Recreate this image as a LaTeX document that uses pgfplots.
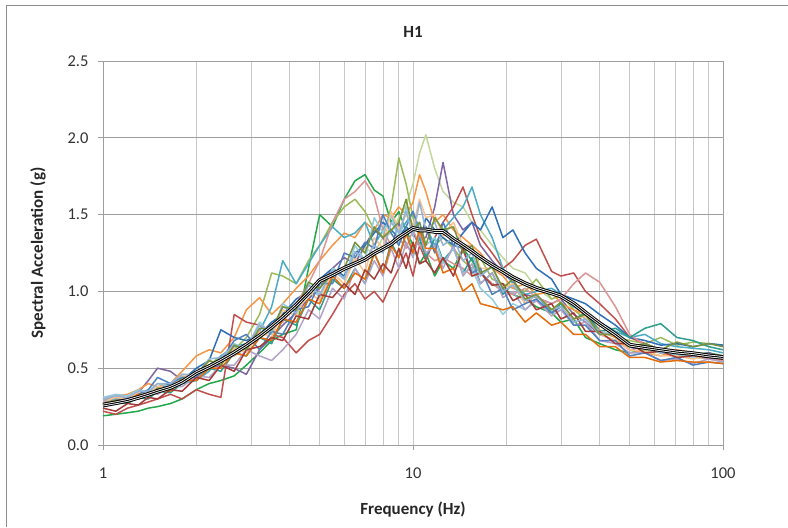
\documentclass[border=0pt]{standalone}
\usepackage{fontspec}
\setmainfont{Carlito}
\usepackage{pgfplots}
\usepackage{pgfplotstable}
\pgfplotsset{compat=1.18}
\definecolor{c1}{HTML}{22A84B}
\definecolor{c2}{HTML}{C3D69B}
\definecolor{c3}{HTML}{9BBB59}
\definecolor{c4}{HTML}{8064A2}
\definecolor{c5}{HTML}{F79646}
\definecolor{c6}{HTML}{C0504D}
\definecolor{c7}{HTML}{4BACC6}
\definecolor{c8}{HTML}{2F6FB5}
\definecolor{c9}{HTML}{D99694}
\definecolor{c10}{HTML}{2E9E8E}
\definecolor{c11}{HTML}{93CDDD}
\definecolor{c12}{HTML}{FAC090}
\definecolor{c13}{HTML}{B3A2C7}
\definecolor{c14}{HTML}{4F81BD}
\definecolor{c15}{HTML}{E46C0A}
\definecolor{c16}{HTML}{A33B38}
\definecolor{c17}{HTML}{95B3D7}
\definecolor{c18}{HTML}{77933C}
\pgfplotstableread{
name 1 1.1 1.2 1.3 1.4 1.5 1.65 1.8 2 2.2 2.4 2.65 2.9 3.2 3.5 3.8 4.2 4.6 5 5.5 6 6.5 7 7.5 8 8.5 9 9.5 10 10.5 11 11.75 12.5 13.5 14.5 15.5 16.5 18 19.5 21 23 25 28 30 33 36 40 45 50 56 63 71 80 90 100
t 0.26 0.275 0.29 0.31 0.33 0.35 0.375 0.41 0.47 0.51 0.55 0.60 0.65 0.71 0.77 0.83 0.91 0.99 1.07 1.11 1.15 1.18 1.21 1.25 1.28 1.31 1.35 1.38 1.41 1.40 1.40 1.39 1.39 1.34 1.30 1.26 1.22 1.17 1.13 1.09 1.05 1.02 0.99 0.97 0.92 0.86 0.79 0.72 0.65 0.635 0.62 0.605 0.595 0.58 0.57
s1 0.19 0.20 0.21 0.22 0.24 0.25 0.27 0.30 0.36 0.40 0.42 0.45 0.52 0.60 0.68 0.72 0.75 1.15 1.50 1.42 1.60 1.72 1.76 1.66 1.62 1.45 1.52 1.40 1.30 1.18 1.25 1.10 1.20 1.15 1.28 1.20 1.12 1.05 1.02 0.98 0.95 0.90 0.86 0.80 0.82 0.70 0.66 0.62 0.60 0.62 0.60 0.58 0.59 0.60 0.58
s2 0.30 0.31 0.30 0.32 0.35 0.37 0.38 0.42 0.46 0.49 0.56 0.58 0.63 0.70 0.74 0.86 0.88 0.95 1.05 1.12 1.10 1.20 1.28 1.25 1.35 1.38 1.48 1.56 1.70 1.90 2.02 1.80 1.65 1.58 1.55 1.45 1.40 1.30 1.22 1.15 1.12 1.02 0.95 0.97 0.90 0.85 0.78 0.72 0.64 0.62 0.60 0.58 0.57 0.56 0.55
s3 0.28 0.29 0.31 0.33 0.32 0.34 0.38 0.40 0.44 0.52 0.58 0.62 0.70 0.85 1.12 1.10 1.05 1.20 1.30 1.45 1.55 1.60 1.52 1.40 1.35 1.55 1.87 1.70 1.48 1.35 1.42 1.30 1.35 1.28 1.20 1.15 1.22 1.08 1.05 1.02 1.00 1.08 0.95 0.98 0.88 0.82 0.74 0.70 0.68 0.66 0.70 0.65 0.67 0.66 0.65
s4 0.27 0.28 0.30 0.34 0.42 0.50 0.48 0.42 0.45 0.50 0.52 0.50 0.46 0.62 0.70 0.78 0.86 0.95 1.02 1.15 1.22 1.18 1.30 1.40 1.35 1.28 1.45 1.30 1.25 1.35 1.35 1.55 1.84 1.50 1.40 1.45 1.30 1.20 1.12 1.06 0.98 0.96 0.92 0.95 0.85 0.80 0.72 0.68 0.62 0.64 0.60 0.61 0.58 0.60 0.57
s5 0.30 0.32 0.33 0.36 0.40 0.38 0.40 0.48 0.58 0.62 0.60 0.70 0.88 0.96 0.85 0.92 1.02 1.10 1.20 1.30 1.38 1.35 1.45 1.40 1.50 1.48 1.55 1.50 1.58 1.76 1.65 1.45 1.50 1.40 1.35 1.30 1.25 1.15 1.10 1.02 1.05 0.98 1.00 0.92 0.88 0.85 0.75 0.70 0.62 0.60 0.58 0.62 0.60 0.58 0.57
s6 0.22 0.20 0.24 0.26 0.28 0.30 0.33 0.30 0.36 0.33 0.31 0.85 0.80 0.78 0.72 0.70 0.60 0.68 0.72 0.85 0.98 1.05 0.95 1.00 0.93 1.05 1.15 1.25 1.10 1.30 1.20 1.35 1.45 1.55 1.68 1.50 1.35 1.25 1.15 1.20 1.30 1.34 1.13 1.10 1.12 1.00 0.92 0.82 0.70 0.66 0.62 0.60 0.60 0.59 0.58
s7 0.29 0.30 0.29 0.31 0.34 0.36 0.40 0.44 0.42 0.48 0.58 0.64 0.66 0.74 0.90 1.20 1.05 1.18 1.30 1.42 1.35 1.38 1.45 1.30 1.40 1.50 1.38 1.45 1.52 1.35 1.42 1.30 1.40 1.48 1.55 1.68 1.50 1.35 1.15 1.05 0.98 1.00 1.02 0.98 0.90 0.86 0.80 0.74 0.70 0.72 0.66 0.64 0.63 0.62 0.60
s8 0.27 0.29 0.31 0.30 0.33 0.36 0.40 0.42 0.50 0.55 0.75 0.70 0.68 0.72 0.80 0.85 0.95 1.00 1.08 1.15 1.10 1.25 1.30 1.38 1.45 1.40 1.35 1.42 1.38 1.30 1.48 1.40 1.35 1.30 1.38 1.45 1.40 1.55 1.35 1.40 1.25 1.15 1.08 0.98 0.95 0.92 0.85 0.78 0.70 0.68 0.65 0.66 0.64 0.66 0.65
s9 0.30 0.31 0.30 0.33 0.35 0.34 0.38 0.42 0.45 0.50 0.56 0.58 0.64 0.70 0.78 0.80 0.92 1.05 1.20 1.45 1.60 1.65 1.72 1.62 1.40 1.30 1.35 1.28 1.40 1.30 1.25 1.20 1.22 1.18 1.15 1.10 1.12 1.05 1.00 0.98 1.02 0.96 0.92 0.95 1.05 1.12 1.06 0.90 0.72 0.65 0.62 0.60 0.58 0.56 0.55
s10 0.26 0.28 0.27 0.31 0.30 0.35 0.34 0.40 0.42 0.50 0.48 0.60 0.58 0.70 0.66 0.82 0.78 0.95 0.88 1.08 1.02 1.15 1.05 1.25 1.12 1.32 1.22 1.38 1.25 1.35 1.22 1.35 1.20 1.28 1.12 1.22 1.05 1.12 0.98 1.05 0.92 0.98 0.86 0.92 0.82 0.86 0.74 0.76 0.70 0.76 0.79 0.70 0.68 0.64 0.62
s11 0.31 0.33 0.32 0.36 0.34 0.40 0.38 0.46 0.45 0.55 0.52 0.66 0.62 0.80 0.72 0.92 0.86 1.05 0.96 1.15 1.08 1.30 1.20 1.48 1.38 1.50 1.32 1.55 1.42 1.45 1.30 1.35 1.18 1.28 1.12 1.15 1.02 0.95 0.85 0.92 0.88 0.95 0.86 0.88 0.80 0.82 0.74 0.72 0.64 0.64 0.60 0.59 0.57 0.57 0.56
s12 0.28 0.31 0.30 0.34 0.33 0.38 0.37 0.45 0.44 0.55 0.52 0.63 0.60 0.74 0.70 0.88 0.84 1.00 0.94 1.12 1.05 1.22 1.12 1.35 1.28 1.52 1.40 1.50 1.42 1.60 1.48 1.50 1.36 1.45 1.30 1.30 1.15 1.15 1.02 1.05 0.92 0.98 0.88 0.90 0.82 0.84 0.72 0.68 0.62 0.61 0.58 0.58 0.56 0.58 0.56
s13 0.29 0.27 0.31 0.30 0.35 0.33 0.38 0.38 0.45 0.44 0.52 0.52 0.62 0.58 0.55 0.62 0.72 0.88 0.82 1.02 0.95 1.15 1.05 1.20 1.10 1.28 1.15 1.32 1.22 1.38 1.25 1.30 1.15 1.30 1.10 1.18 1.05 1.12 0.96 1.00 0.88 0.94 0.84 0.88 0.78 0.80 0.68 0.66 0.60 0.60 0.55 0.56 0.53 0.56 0.54
s14 0.25 0.28 0.28 0.33 0.36 0.44 0.40 0.44 0.44 0.52 0.55 0.68 0.72 0.62 0.74 0.72 0.88 0.90 1.05 1.05 1.25 1.22 1.32 1.28 1.50 1.38 1.30 1.42 1.52 1.40 1.42 1.25 1.45 1.30 1.28 1.12 1.15 0.98 1.02 0.88 0.92 0.95 0.86 0.90 0.78 0.78 0.68 0.68 0.58 0.60 0.55 0.57 0.52 0.54 0.53
s15 0.27 0.29 0.29 0.33 0.32 0.36 0.35 0.42 0.42 0.50 0.50 0.60 0.58 0.70 0.68 0.82 0.80 0.95 0.92 1.10 1.02 1.12 1.08 1.25 1.12 1.30 1.22 1.38 1.25 1.40 1.28 1.28 1.12 1.15 1.00 1.05 0.92 0.90 0.88 0.90 0.80 0.86 0.78 0.80 0.72 0.72 0.64 0.64 0.57 0.57 0.54 0.55 0.54 0.54 0.53
s16 0.24 0.22 0.27 0.26 0.31 0.30 0.36 0.35 0.44 0.42 0.52 0.48 0.62 0.64 0.70 0.68 0.84 0.82 0.98 0.96 1.05 0.98 1.14 1.08 1.18 1.12 1.28 1.15 1.32 1.18 1.20 1.12 1.22 1.10 1.28 1.10 1.12 1.04 1.05 0.94 0.98 0.88 0.92 0.82 0.86 0.74 0.74 0.66 0.66 0.60 0.61 0.57 0.58 0.57 0.56
s17 0.30 0.32 0.31 0.35 0.35 0.40 0.40 0.46 0.46 0.56 0.57 0.65 0.64 0.78 0.74 0.90 0.86 1.04 0.98 1.14 1.08 1.26 1.20 1.30 1.25 1.45 1.38 1.52 1.36 1.58 1.40 1.45 1.30 1.35 1.20 1.25 1.10 1.16 1.00 1.04 0.94 0.97 0.88 0.90 0.80 0.82 0.72 0.72 0.64 0.65 0.60 0.61 0.58 0.59 0.57
s18 0.27 0.29 0.28 0.32 0.32 0.37 0.36 0.43 0.46 0.55 0.52 0.65 0.62 0.76 0.75 0.90 0.88 1.06 1.02 1.12 1.15 1.32 1.25 1.42 1.35 1.40 1.45 1.60 1.40 1.45 1.30 1.48 1.40 1.42 1.25 1.30 1.12 1.16 1.02 1.08 0.95 0.98 0.88 0.93 0.82 0.85 0.72 0.72 0.64 0.66 0.62 0.67 0.64 0.66 0.64
}\rawdata
\pgfplotstabletranspose[colnames from=name]\data\rawdata
\begin{document}
\begin{tikzpicture}
\begin{axis}[
  name=ax,
  scale only axis, width=620pt, height=384pt,
  xmode=log, xmin=1, xmax=100, ymin=0, ymax=2.5,
  xtick={1,10,100}, xticklabels={1,10,100},
  ytick={0,0.5,1,1.5,2,2.5},
  grid=both,
  x grid style={draw=black!22, line width=0.8pt},
  y grid style={draw=black!38, line width=0.8pt},
  minor x grid style={draw=black!22, line width=0.8pt},
  axis line style={draw=black!38, line width=0.8pt},
  tick align=outside, tick pos=left,
  major tick length=5pt, minor tick length=0pt,
  tick style={draw=black!38, line width=0.8pt},
  ticklabel style={font=\fontsize{16.5}{18}\selectfont, text=black!80},
  /pgf/number format/assume math mode=true,
  yticklabel style={/pgf/number format/fixed, /pgf/number format/fixed zerofill, /pgf/number format/precision=1, xshift=-6pt},
  xticklabel style={yshift=-14pt},
  every axis plot/.append style={no markers, line width=1.5pt, line join=round},
]
\addplot[c1] table[x=colnames, y=s1]{\data};
\addplot[c2] table[x=colnames, y=s2]{\data};
\addplot[c3] table[x=colnames, y=s3]{\data};
\addplot[c4] table[x=colnames, y=s4]{\data};
\addplot[c5] table[x=colnames, y=s5]{\data};
\addplot[c6] table[x=colnames, y=s6]{\data};
\addplot[c7] table[x=colnames, y=s7]{\data};
\addplot[c8] table[x=colnames, y=s8]{\data};
\addplot[c9] table[x=colnames, y=s9]{\data};
\addplot[c10] table[x=colnames, y=s10]{\data};
\addplot[c11] table[x=colnames, y=s11]{\data};
\addplot[c12] table[x=colnames, y=s12]{\data};
\addplot[c13] table[x=colnames, y=s13]{\data};
\addplot[c14] table[x=colnames, y=s14]{\data};
\addplot[c15] table[x=colnames, y=s15]{\data};
\addplot[c16] table[x=colnames, y=s16]{\data};
\addplot[c17] table[x=colnames, y=s17]{\data};
\addplot[c18] table[x=colnames, y=s18]{\data};
\addplot[black, line width=4.6pt] table[x=colnames, y=t]{\data};
\addplot[white, line width=2.6pt] table[x=colnames, y=t]{\data};
\addplot[black, line width=1pt] table[x=colnames, y=t]{\data};
\end{axis}
\path[use as bounding box] ([shift={(-103pt,-82pt)}]ax.south west) rectangle ([shift={(65pt,61pt)}]ax.north east);
\draw[black!45, line width=1pt] ([shift={(-96pt,-82pt)}]ax.south west) -- ([shift={(-96pt,55pt)}]ax.north west) -- ([shift={(65pt,55pt)}]ax.north east);
\node[font=\fontsize{17}{20}\selectfont\bfseries, text=black!85] at ([yshift=29pt]ax.north) {H1};
\node[font=\fontsize{17}{20}\selectfont\bfseries, text=black!85] at ([yshift=-65pt]ax.south) {Frequency (Hz)};
\node[font=\fontsize{17}{20}\selectfont\bfseries, text=black!85, rotate=90] at ([xshift=-65pt]ax.west) {Spectral Acceleration (g)};
\end{tikzpicture}
\end{document}
